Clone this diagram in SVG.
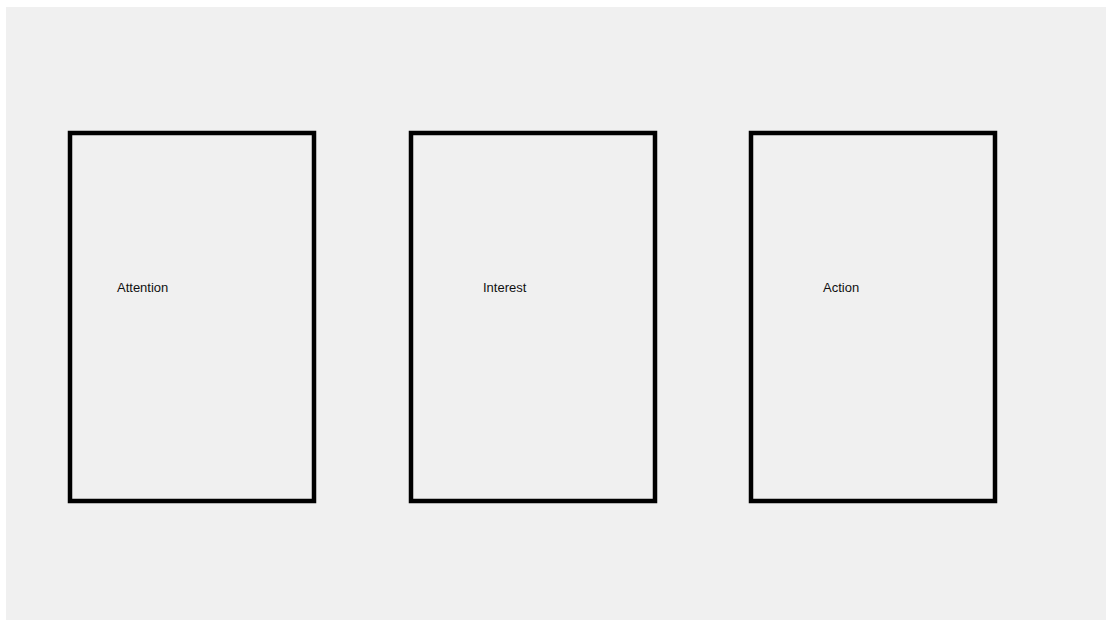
<svg xmlns="http://www.w3.org/2000/svg" width="1112" height="620" viewBox="0 0 1112 620">
<style>
.card{fill:none;stroke:#000;stroke-width:4.5}
.lbl{font-family:"Liberation Sans",Arial,sans-serif;font-size:13px;fill:#111}
</style>
<rect x="0" y="0" width="1112" height="620" fill="#ffffff"/>
<rect x="6" y="7" width="1100" height="613" fill="#f0f0f0"/>
<g id="connectors"></g>
<g id="attention">
<rect class="card" x="70" y="133" width="244" height="368"/>
<text class="lbl" x="117" y="291.5">Attention</text>
</g>
<g id="interest">
<rect class="card" x="411" y="133" width="244" height="368"/>
<text class="lbl" x="483" y="291.5">Interest</text>
</g>
<g id="action">
<rect class="card" x="751" y="133" width="244" height="368"/>
<text class="lbl" x="823" y="291.5">Action</text>
</g>
</svg>
